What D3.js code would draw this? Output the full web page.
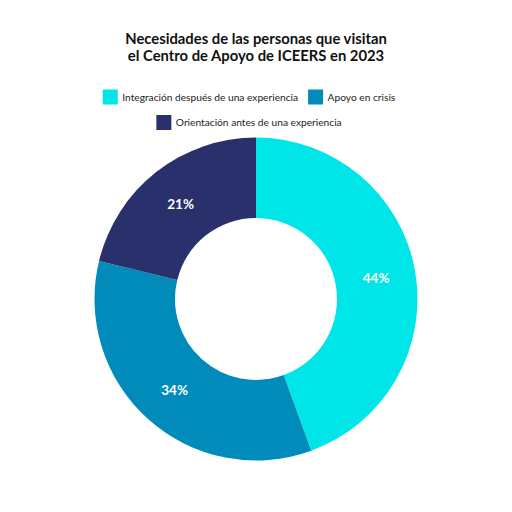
<!DOCTYPE html>
<html><head><meta charset="utf-8">
<script src="https://cdn.jsdelivr.net/npm/d3@7"></script>
<style>body{margin:0;background:#fff}svg{display:block}</style>
</head><body>
<svg id="c" width="512" height="512"></svg>
<script>
const titleLines = ["Necesidades de las personas que visitan", "el Centro de Apoyo de ICEERS en 2023"];
const categories = ["Integración después de una experiencia", "Apoyo en crisis", "Orientación antes de una experiencia"];
const values = [44, 34, 21];
const colors = ["#00E6E8", "#008BBB", "#2A306C"];
const legendRows = [[0, 1], [2]];

const svg = d3.select("#c");
const W = 512;
const cx = 256, cy = 299, outerR = 161.5, innerR = 81;

svg.append("rect").attr("width", W).attr("height", 512).attr("fill", "#fff");

titleLines.forEach((t, i) => svg.append("text").attr("text-anchor", "middle")
  .attr("font-family", "Lato, sans-serif").attr("font-weight", 700)
  .attr("font-size", 14.8).attr("fill", "#111")
  .attr("x", 256).attr("y", 44 + i * 16.5).text(t));

const color = d3.scaleOrdinal().domain(categories).range(colors);

// legend
const rowY = [97, 122.5];
legendRows.forEach((row, ri) => {
  const g = svg.append("g");
  let x = 0;
  row.forEach((idx, k) => {
    const it = g.append("g").attr("transform", `translate(${x},0)`);
    it.append("rect").attr("x", 0).attr("y", -7.5).attr("width", 15).attr("height", 15).attr("fill", color(categories[idx]));
    const t = it.append("text").attr("x", 19.5).attr("y", 0).attr("dy", "0.35em")
      .attr("font-family", "Lato, sans-serif").attr("font-size", 10.2).attr("fill", "#222")
      .text(categories[idx]);
    x += 19.5 + t.node().getComputedTextLength() + 10;
  });
  const w = x - 10;
  g.attr("transform", `translate(${249 - w / 2},${rowY[ri]})`);
});

const pie = d3.pie().sort(null).value(d => d);
const arcs = pie(values);
const arc = d3.arc().innerRadius(innerR).outerRadius(outerR);
const labelArc = d3.arc().innerRadius(innerR + 41).outerRadius(innerR + 41);

const g = svg.append("g").attr("transform", `translate(${cx},${cy})`);
g.selectAll("path").data(arcs).join("path")
  .attr("d", arc).attr("fill", (d, i) => color(categories[i]));
g.selectAll("text").data(arcs).join("text")
  .attr("transform", d => `translate(${labelArc.centroid(d)})`)
  .attr("text-anchor", "middle").attr("dy", "0.4em")
  .attr("font-family", "Lato, sans-serif").attr("font-weight", 700)
  .attr("font-size", 13.5).attr("fill", "#fff")
  .text(d => d.data + "%");
</script>
</body></html>
